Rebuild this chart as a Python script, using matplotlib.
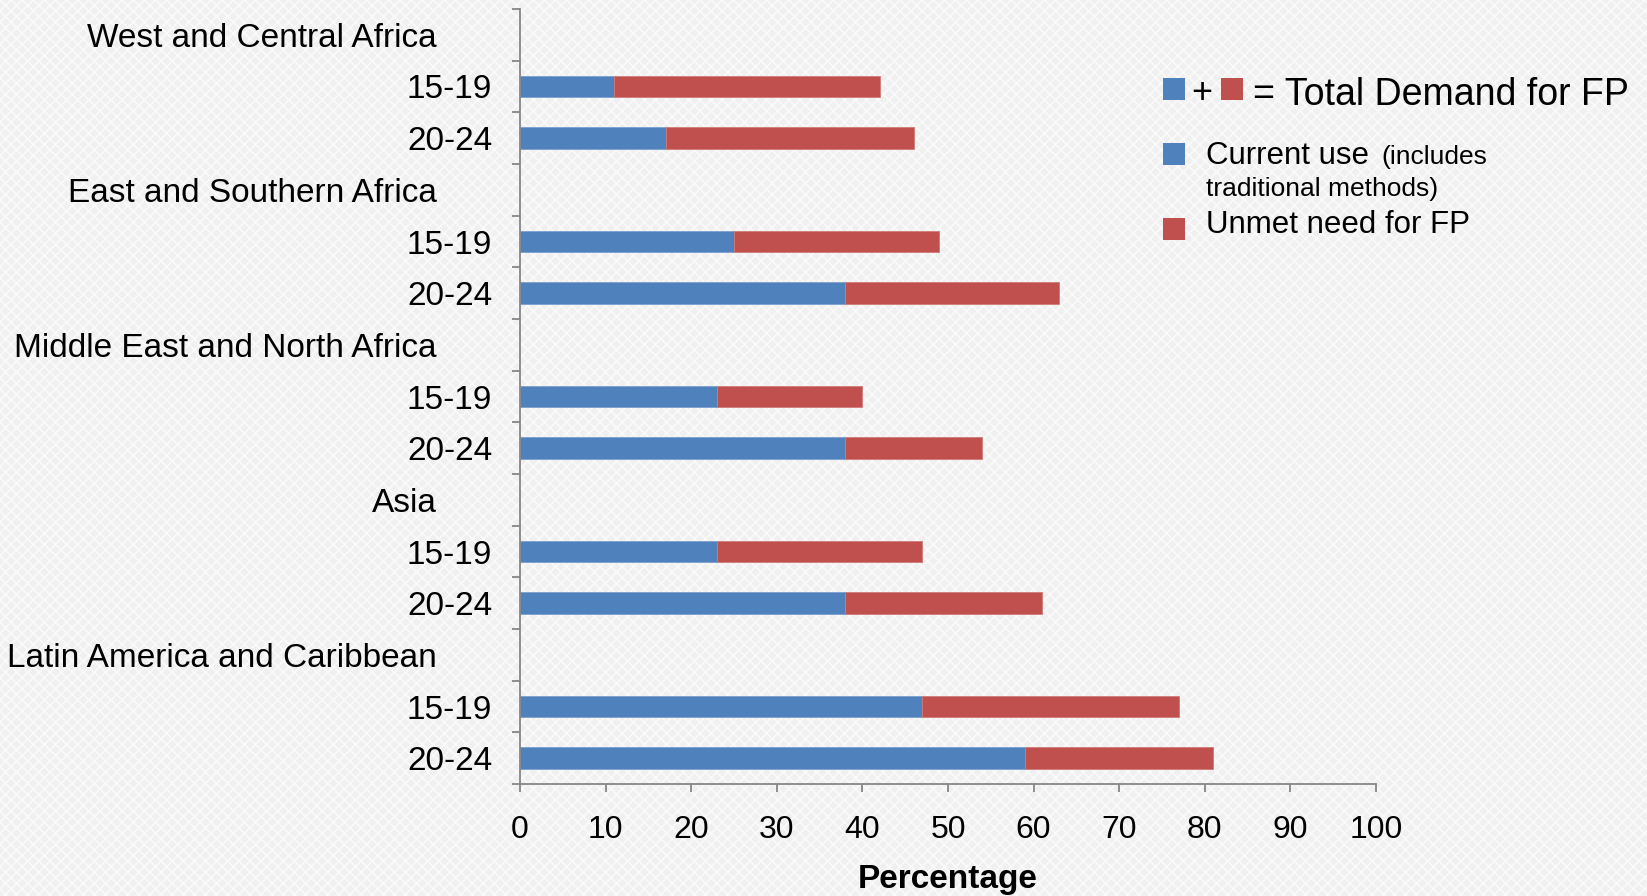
import matplotlib
matplotlib.use("Agg")
import matplotlib.pyplot as plt
import numpy as np
from matplotlib.patches import Rectangle

plt.rcParams['font.family'] = ['Liberation Sans', 'DejaVu Sans']
plt.rcParams['hatch.linewidth'] = 1.2

# data
regions = ["West and Central Africa", "East and Southern Africa",
           "Middle East and North Africa", "Asia", "Latin America and Caribbean"]
ages = ["15-19", "20-24"]
current_use = [11, 17, 25, 38, 23, 38, 23, 38, 47, 59]
total_demand = [42, 46, 49, 63, 40, 54, 47, 61, 77, 81]
unmet_need = [t - c for t, c in zip(total_demand, current_use)]
x_ticks = [0, 10, 20, 30, 40, 50, 60, 70, 80, 90, 100]

blue = "#4f81bd"
red = "#c0504d"
W, H = 1647, 896

fig = plt.figure(figsize=(W / 100, H / 100), dpi=100)
fig.patch.set_facecolor("#f0f0f0")
# light cross-hatch texture on the background
fig.add_artist(Rectangle((0, 0), 1, 1, transform=fig.transFigure, facecolor="none",
                         edgecolor="#fafafa", hatch="xxx", linewidth=0, zorder=-10))

ax = fig.add_axes([520 / W, 1 - 784 / H, (1376 - 520) / W, (784 - 9) / H])
ax.set_facecolor("none")

# each region gets a header slot, then one slot per age group
n_slots = len(regions) * (len(ages) + 1)
header_pos = [i * (len(ages) + 1) + 0.5 for i in range(len(regions))]
bar_pos = [h + j + 1 for h in header_pos for j in range(len(ages))]
bar_labels = ages * len(regions)

ax.barh(bar_pos, current_use, height=0.42, color=blue, edgecolor="#7a9fcf", linewidth=0.6)
ax.barh(bar_pos, unmet_need, left=current_use, height=0.42, color=red,
        edgecolor="#d07a78", linewidth=0.6)

ax.set_ylim(n_slots, 0)
ax.set_xlim(0, 100)
ax.set_xticks(x_ticks)
ax.set_yticks(np.arange(0, n_slots + 1))
ax.set_yticklabels([])
ax.set_yticks(bar_pos, bar_labels, minor=True)

for s in ["top", "right"]:
    ax.spines[s].set_visible(False)
for s in ["left", "bottom"]:
    ax.spines[s].set_color("#868686")
    ax.spines[s].set_linewidth(1.3)

ax.tick_params(axis="y", which="major", length=6, width=1.3, color="#868686")
ax.tick_params(axis="y", which="minor", length=0, pad=20, labelsize=24)
ax.tick_params(axis="x", length=6, width=1.3, color="#868686", labelsize=23, pad=16)

for name, y in zip(regions, header_pos):
    ax.annotate(name, xy=(0, y), xycoords=("axes fraction", "data"),
                xytext=(-60, 0), textcoords="offset points",
                ha="right", va="center_baseline", fontsize=24)

ax.set_xlabel("Percentage", fontsize=24, fontweight="bold", labelpad=14)


# legend drawn by hand in pixel coordinates
def fx(x):
    return x / W


def fy(y):
    return 1 - y / H


def square(x, y, color):
    fig.add_artist(Rectangle((fx(x), fy(y + 22)), 22 / W, 22 / H,
                             transform=fig.transFigure, facecolor=color, edgecolor="none"))


square(1163, 78, blue)
square(1221, 78, red)
square(1163, 143, blue)
square(1163, 218, red)
fig.text(fx(1202), fy(93), "+", fontsize=26, ha="center", va="center")
fig.text(fx(1253), fy(91), "= Total Demand for FP", fontsize=27, ha="left", va="center_baseline")
fig.text(fx(1206), fy(164), "Current use", fontsize=22.5, ha="left", va="baseline")
fig.text(fx(1381), fy(164), "(includes", fontsize=19, ha="left", va="baseline")
fig.text(fx(1206), fy(196), "traditional methods)", fontsize=19, ha="left", va="baseline")
fig.text(fx(1206), fy(233), "Unmet need for FP", fontsize=22.5, ha="left", va="baseline")

fig.savefig("out.png", dpi=100, facecolor=fig.get_facecolor())
